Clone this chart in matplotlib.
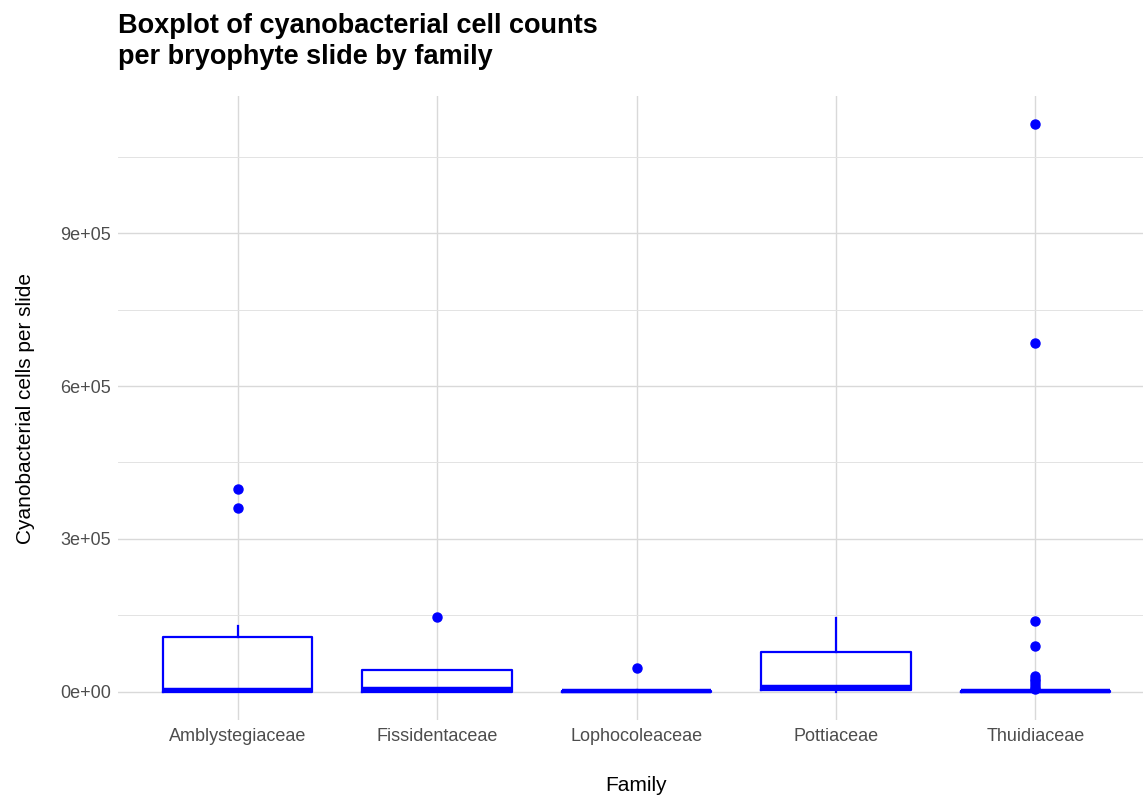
import matplotlib
matplotlib.use("Agg")
import matplotlib.pyplot as plt
from matplotlib.ticker import FixedLocator, FuncFormatter

plt.rcParams['font.family'] = ['Liberation Sans Narrow', 'Liberation Sans', 'DejaVu Sans']

families = ["Amblystegiaceae", "Fissidentaceae", "Lophocoleaceae", "Pottiaceae", "Thuidiaceae"]

# five-number summaries per family (cells per slide)
whislo = [0, 0, 0, 0, 0]
q1 = [0, 0, 0, 3000, 0]
med = [3000, 5000, 1000, 10000, 1000]
q3 = [108000, 43000, 2000, 77000, 2000]
whishi = [128000, 43000, 3000, 145000, 3000]
fliers = [
    [361000, 397000],
    [147000],
    [47000],
    [],
    [1114000, 684000, 138000, 90000, 30000, 25000, 20000, 15000, 10000, 6000],
]

blue = "#0000FF"

fig = plt.figure(figsize=(11.43, 7.98), dpi=100)
W, H = 1143, 798
ax = fig.add_axes([118 / W, 1 - 720 / H, (1155 - 118) / W, (720 - 96) / H])

stats = []
for i, name in enumerate(families):
    stats.append(dict(label=name, whislo=whislo[i], q1=q1[i], med=med[i],
                      q3=q3[i], whishi=whishi[i], fliers=fliers[i]))

ax.bxp(stats, positions=range(1, 6), widths=0.75, showcaps=False,
       boxprops=dict(color=blue, linewidth=1.6),
       medianprops=dict(color=blue, linewidth=3.2),
       whiskerprops=dict(color=blue, linewidth=1.6),
       flierprops=dict(marker="o", markerfacecolor=blue, markeredgecolor=blue,
                       markersize=6.5))

ymax = max(max(f) for f in fliers if f)
pad = 0.05 * ymax
ax.set_ylim(-pad, ymax + pad)
ax.set_xlim(0.4, 5.6)

ax.yaxis.set_major_locator(FixedLocator([0, 3e5, 6e5, 9e5]))
ax.yaxis.set_minor_locator(FixedLocator([1.5e5, 4.5e5, 7.5e5, 1.05e6]))
ax.yaxis.set_major_formatter(FuncFormatter(lambda v, p: "%de+05" % round(v / 1e5) if v else "0e+00"))

ax.grid(True, which="major", color="#d9d9d9", linewidth=1.0)
ax.grid(True, which="minor", axis="y", color="#e3e3e3", linewidth=0.7)
ax.set_axisbelow(True)
for s in ax.spines.values():
    s.set_visible(False)
ax.tick_params(which="both", length=0, labelsize=13, labelcolor="#4d4d4d")
ax.tick_params(axis="y", pad=5)
ax.tick_params(axis="x", pad=6)

ax.set_xlabel("Family", fontsize=15, labelpad=22)
ax.set_ylabel("Cyanobacterial cells per slide", fontsize=15, labelpad=18)

fig.text(118 / W, 1 - 13 / H, "Boxplot of cyanobacterial cell counts\nper bryophyte slide by family",
         fontsize=19.5, fontweight="bold", va="top", ha="left", linespacing=1.25,
         family=['Liberation Sans Narrow', 'Liberation Sans', 'DejaVu Sans'])

fig.savefig("out.png", dpi=100)
